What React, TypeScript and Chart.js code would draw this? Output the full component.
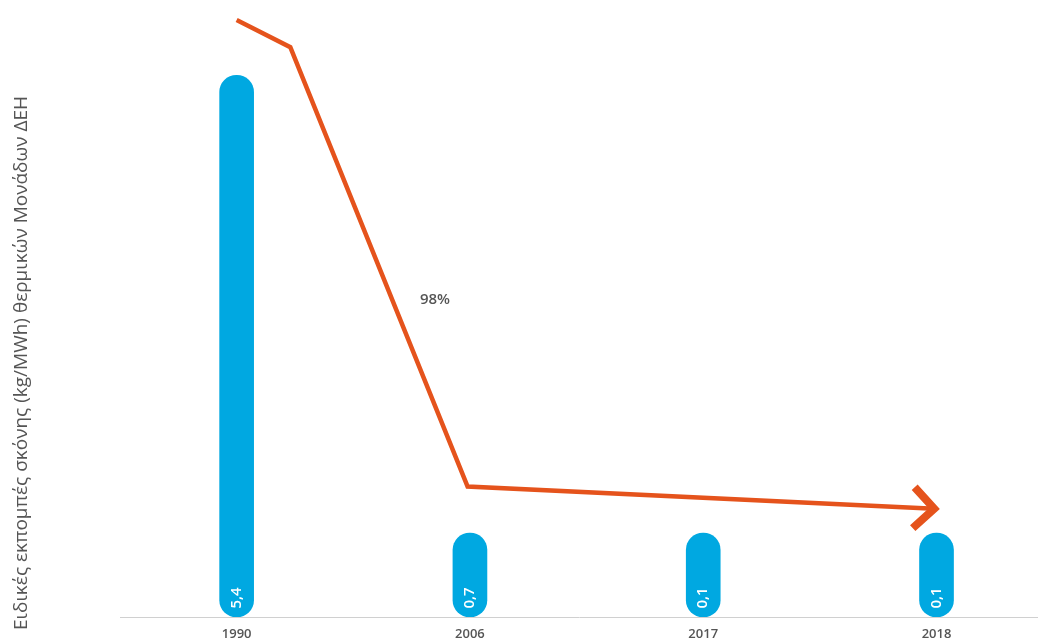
import React, { useEffect, useRef } from "react";
import { Chart, registerables } from "chart.js";

Chart.register(...registerables);

const years = ["1990", "2006", "2017", "2018"];
const dustValues = [5.4, 0.7, 0.1, 0.1];
const trendX = [0.0, 0.23, 0.99, 2.99];
const trendY = [5.95, 5.68, 1.3, 1.08];
const trendLabel = "98%";
const trendLabelPos = { x: 0.85, y: 3.16 };
const yTitle = "Ειδικές εκπομπές σκόνης (kg/MWh) θερμικών Μονάδων ΔΕΗ";

const BLUE = "#00a8e1";
const ORANGE = "#e5531c";
const GREY = "#555555";
const FONT = "'Open Sans', 'DejaVu Sans', sans-serif";

const overlayPlugin = {
  id: "overlay",
  afterDatasetsDraw(chart: any) {
    const ctx = chart.ctx;
    const xs = chart.scales.x;
    const ys = chart.scales.y;
    const meta = chart.getDatasetMeta(0);
    ctx.save();
    meta.data.forEach((bar: any, i: number) => {
      const txt = String(dustValues[i]).replace(".", ",");
      ctx.save();
      ctx.translate(bar.x, bar.base - 19);
      ctx.rotate(-Math.PI / 2);
      ctx.fillStyle = "#ffffff";
      ctx.font = `600 15px ${FONT}`;
      ctx.textAlign = "center";
      ctx.textBaseline = "middle";
      ctx.fillText(txt, 0, 0);
      ctx.restore();
    });
    const n = trendX.length;
    const x1 = xs.getPixelForValue(trendX[n - 2]);
    const y1 = ys.getPixelForValue(trendY[n - 2]);
    const x2 = xs.getPixelForValue(trendX[n - 1]);
    const y2 = ys.getPixelForValue(trendY[n - 1]);
    const ang = Math.atan2(y2 - y1, x2 - x1);
    const len = 29;
    ctx.strokeStyle = ORANGE;
    ctx.lineWidth = 8;
    ctx.lineJoin = "miter";
    ctx.lineCap = "butt";
    ctx.beginPath();
    ctx.moveTo(x2 + len * Math.cos(ang + Math.PI * 0.75), y2 + len * Math.sin(ang + Math.PI * 0.75));
    ctx.lineTo(x2, y2);
    ctx.lineTo(x2 + len * Math.cos(ang - Math.PI * 0.75), y2 + len * Math.sin(ang - Math.PI * 0.75));
    ctx.stroke();
    ctx.fillStyle = GREY;
    ctx.font = `600 15px ${FONT}`;
    ctx.textAlign = "center";
    ctx.textBaseline = "middle";
    ctx.fillText(trendLabel, xs.getPixelForValue(trendLabelPos.x), ys.getPixelForValue(trendLabelPos.y));
    ctx.save();
    ctx.translate(22, 363);
    ctx.rotate(-Math.PI / 2);
    ctx.fillStyle = GREY;
    ctx.font = `500 19px ${FONT}`;
    ctx.fillText(yTitle, 0, 0);
    ctx.restore();
    ctx.restore();
  },
};

export default function App() {
  const ref = useRef<HTMLCanvasElement>(null);
  useEffect(() => {
    if (!ref.current) return;
    const chart = new Chart(ref.current, {
      type: "bar",
      data: {
        datasets: [
          {
            type: "bar",
            data: dustValues.map((v, i) => ({ x: i, y: v })),
            backgroundColor: BLUE,
            barThickness: 34,
            borderRadius: 17,
            borderSkipped: false,
            minBarLength: 84,
          } as any,
          {
            type: "line",
            data: trendX.map((x, i) => ({ x, y: trendY[i] })),
            borderColor: ORANGE,
            borderWidth: 4.5,
            pointRadius: 0,
            fill: false,
            tension: 0,
            clip: false,
          } as any,
        ],
      },
      options: {
        animation: false,
        responsive: false,
        maintainAspectRatio: false,
        layout: { padding: { left: 120, right: 0, top: 0, bottom: 0 } },
        plugins: { legend: { display: false }, tooltip: { enabled: false } },
        scales: {
          x: {
            type: "linear",
            offset: false,
            min: -0.5,
            max: 3.435,
            grid: { display: false, drawTicks: false },
            border: { display: true, color: "#d0d0d0", width: 1 },
            afterBuildTicks: (axis: any) => {
              axis.ticks = years.map((_, i) => ({ value: i }));
            },
            afterFit: (axis: any) => {
              axis.height = 23;
            },
            ticks: {
              padding: 9,
              color: GREY,
              font: { family: FONT, size: 13, weight: "600" },
              callback: (v: any) => years[Number(v)] ?? "",
            },
          },
          y: {
            display: false,
            min: 0,
            max: 6.15,
          },
        },
      } as any,
      plugins: [overlayPlugin],
    });
    return () => chart.destroy();
  }, []);
  return (
    <div style={{ position: "fixed", left: 0, top: 0, width: 1038, height: 640, background: "#fff" }}>
      <canvas ref={ref} width={1038} height={640} style={{ width: 1038, height: 640 }} />
    </div>
  );
}
